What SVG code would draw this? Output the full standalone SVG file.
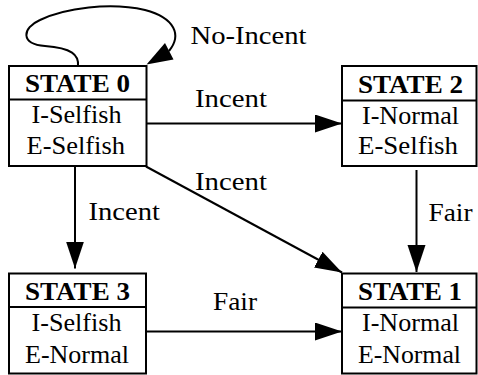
<svg xmlns="http://www.w3.org/2000/svg" width="478" height="375" viewBox="0 0 478 375">
<style>
.box{fill:#fff;stroke:#000;stroke-width:2}
.div{stroke:#000;stroke-width:2}
.h{font-weight:bold}
.e{fill:none;stroke:#000;stroke-width:2}
</style>
<defs>
<marker id="arr" markerUnits="userSpaceOnUse" markerWidth="28" markerHeight="20" refX="27" refY="9" orient="auto">
<path d="M0,0 L27,9 L0,18 z" fill="#000"/>
</marker>
</defs>
<rect width="478" height="375" fill="#fff"/>
<g id="edges">
<path class="e" d="M 78,66 C 79,55 72,48 45,46 C 20,44 22,28 40,20 C 65,8 110,2 145,10 C 175,18 182,35 169,51"/>
<polygon points="146.5,64.5 173.5,59.5 165,43" fill="#000"/>
<path class="e" d="M 147,123.5 L 342,123.5" marker-end="url(#arr)"/>
<path class="e" d="M 146,166.5 L 342,272.5" marker-end="url(#arr)"/>
<path class="e" d="M 75,167 L 75,268.5" marker-end="url(#arr)"/>
<path class="e" d="M 416.5,170 L 416.5,272" marker-end="url(#arr)"/>
<path class="e" d="M 147,331.5 L 342,331.5" marker-end="url(#arr)"/>
<g font-family="Liberation Serif, Times New Roman, serif" font-size="26" fill="#000">
<text x="190.5" y="44" textLength="116" lengthAdjust="spacingAndGlyphs">No-Incent</text>
<text x="195" y="107" textLength="72" lengthAdjust="spacingAndGlyphs">Incent</text>
<text x="195" y="190" textLength="72" lengthAdjust="spacingAndGlyphs">Incent</text>
<text x="88.5" y="220" textLength="71.5" lengthAdjust="spacingAndGlyphs">Incent</text>
<text x="428.5" y="220.5" textLength="44" lengthAdjust="spacingAndGlyphs">Fair</text>
<text x="213" y="310" textLength="44" lengthAdjust="spacingAndGlyphs">Fair</text>
</g>
</g>
<g id="state0" font-family="Liberation Serif, Times New Roman, serif" font-size="25" fill="#000">
<rect class="box" x="9" y="66" width="137.5" height="100"/>
<line class="div" x1="9" y1="99.5" x2="146.5" y2="99.5"/>
<text class="h" x="25" y="92" textLength="105" lengthAdjust="spacingAndGlyphs">STATE 0</text>
<text x="31.5" y="123" textLength="90" lengthAdjust="spacingAndGlyphs">I-Selfish</text>
<text x="26.5" y="154" textLength="98.5" lengthAdjust="spacingAndGlyphs">E-Selfish</text>
</g>
<g id="state2" font-family="Liberation Serif, Times New Roman, serif" font-size="25" fill="#000">
<rect class="box" x="342" y="66" width="134.5" height="100"/>
<line class="div" x1="342" y1="100.5" x2="476.5" y2="100.5"/>
<text class="h" x="358" y="93" textLength="105" lengthAdjust="spacingAndGlyphs">STATE 2</text>
<text x="362" y="124" textLength="97" lengthAdjust="spacingAndGlyphs">I-Normal</text>
<text x="358" y="154" textLength="100" lengthAdjust="spacingAndGlyphs">E-Selfish</text>
</g>
<g id="state3" font-family="Liberation Serif, Times New Roman, serif" font-size="25" fill="#000">
<rect class="box" x="9" y="273.5" width="137" height="100"/>
<line class="div" x1="9" y1="307" x2="146" y2="307"/>
<text class="h" x="25" y="300" textLength="105" lengthAdjust="spacingAndGlyphs">STATE 3</text>
<text x="31.5" y="331" textLength="90" lengthAdjust="spacingAndGlyphs">I-Selfish</text>
<text x="25" y="363" textLength="104" lengthAdjust="spacingAndGlyphs">E-Normal</text>
</g>
<g id="state1" font-family="Liberation Serif, Times New Roman, serif" font-size="25" fill="#000">
<rect class="box" x="342" y="273.5" width="134.5" height="100"/>
<line class="div" x1="342" y1="307.5" x2="476.5" y2="307.5"/>
<text class="h" x="358" y="300" textLength="104" lengthAdjust="spacingAndGlyphs">STATE 1</text>
<text x="362" y="331" textLength="97" lengthAdjust="spacingAndGlyphs">I-Normal</text>
<text x="358" y="363" textLength="103" lengthAdjust="spacingAndGlyphs">E-Normal</text>
</g>
</svg>
